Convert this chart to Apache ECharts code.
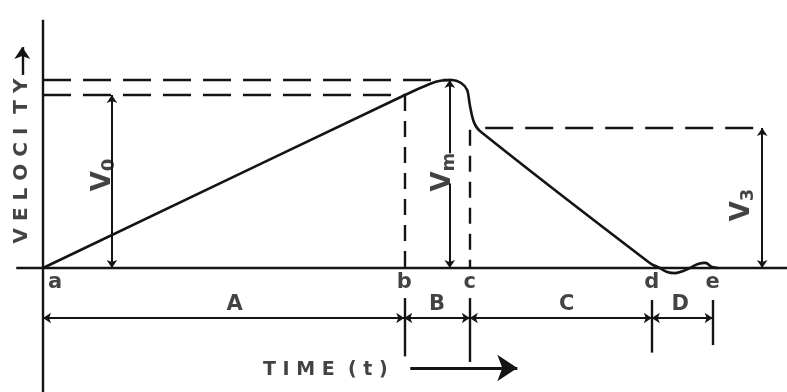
<!DOCTYPE html>
<html>
<head>
<meta charset="utf-8">
<script src="https://cdn.jsdelivr.net/npm/echarts@6/dist/echarts.min.js"></script>
<style>
  html, body { margin: 0; padding: 0; background: #fff; }
  #chart { width: 787px; height: 392px; }
</style>
</head>
<body>
<div id="chart"></div>
<script>
// Velocity profile: t in arbitrary time units (a = 0, e = 100), v in % of peak velocity Vm
const curve = [
  [0, 0], [54.1, 92.0], [57.8, 97.9], [59.6, 99.7], [61.1, 100], [62.5, 98.4],
  [63.4, 94.7], [63.8, 86.7], [64.4, 77.7], [65.3, 72.9], [90.7, 2.7], [92.2, 0],
  [93.3, -2.1], [94.5, -2.7], [95.7, -1.6], [96.7, 0], [97.9, 2.1], [99.0, 2.7],
  [100, 0.5], [100.9, 0]
];

// Instants on the time axis and the phases between them
const instantNames = ['a', 'b', 'c', 'd', 'e'];
const instantTimes = [0, 54.0, 63.8, 91.0, 100.1];
const phaseNames = ['A', 'B', 'C', 'D'];

// Velocity levels: V0 at b, Vm at the peak, V3 after the drop
const levelSub = ['0', 'm', '3'];
const levelValues = [92, 100, 74.5];
const levelArrowTimes = [10.3, 60.8, 107.5];
const peakTime = 61.1;

// ---- layout (pixel scale of the diagram) ----
const W = 787, H = 392;
const ORIGIN_X = 43, ORIGIN_Y = 268;
const PX_T = 6.69, PX_V = 1.88;
const tMin = -ORIGIN_X / PX_T, tMax = (W - ORIGIN_X) / PX_T;
const vMin = -(H - ORIGIN_Y) / PX_V, vMax = ORIGIN_Y / PX_V;
const INK = '#141414';
const FONT = 'DejaVu Sans';

const DIM_V = -26.6;          // dimension line under the axis
const LETTER_V = -8;          // instant letters
const tickSpans = [[-16, -47], [-16, -50], [-17, -45], [-17, -41]];
const phaseShiftPx = [11, 0, 6, -2];

const [ta, tb, tc, td, te] = instantTimes;
const [v0, vm, v3] = levelValues;

function seg(a, b) { return { coords: [a, b] }; }

const solidSegs = [
  seg([0, vMax - 10.5], [0, vMin]),   // velocity axis
  seg([-4, 0], [tMax, 0])             // time axis
];
for (let i = 1; i < instantTimes.length; i++) {
  const s = tickSpans[i - 1];
  solidSegs.push(seg([instantTimes[i], s[0]], [instantTimes[i], s[1]]));
}

const dashedH = [
  seg([0, vm], [peakTime, vm]),
  seg([0, v0], [tb, v0]),
  seg([66.1, v3], [107.9, v3])
];
const dashedV = [
  seg([tb, v0], [tb, 0]),
  seg([tc, v3 - 1], [tc, 0])
];

const dimSegs = [];
for (let i = 0; i < phaseNames.length; i++) {
  dimSegs.push(seg([instantTimes[i], DIM_V], [instantTimes[i + 1], DIM_V]));
}

const levelArrows = [
  seg([levelArrowTimes[0], 0], [levelArrowTimes[0], v0]),
  seg([levelArrowTimes[2], 0], [levelArrowTimes[2], v3])
];

const chart = echarts.init(document.getElementById('chart'), null, { renderer: 'canvas' });

const lineBase = { type: 'lines', coordinateSystem: 'cartesian2d', silent: true, animation: false };
const textBase = { type: 'scatter', symbolSize: 1, silent: true, itemStyle: { color: 'rgba(0,0,0,0)' } };

chart.setOption({
  backgroundColor: '#fff',
  animation: false,
  grid: { left: 0, right: 0, top: 0, bottom: 0 },
  xAxis: { type: 'value', min: tMin, max: tMax, show: false },
  yAxis: { type: 'value', min: vMin, max: vMax, show: false },
  series: [
    Object.assign({}, lineBase, {
      data: solidSegs, symbol: 'none',
      lineStyle: { color: INK, width: 2.4, opacity: 1 }
    }),
    Object.assign({}, lineBase, {
      data: dashedH, symbol: 'none',
      lineStyle: { color: INK, width: 2.4, type: [28, 12], opacity: 1 }
    }),
    Object.assign({}, lineBase, {
      data: dashedV, symbol: 'none',
      lineStyle: { color: INK, width: 2.4, type: [16, 10], opacity: 1 }
    }),
    Object.assign({}, lineBase, {
      data: dimSegs.concat(levelArrows), symbol: ['arrow', 'arrow'], symbolSize: 8,
      lineStyle: { color: INK, width: 2, opacity: 1 }
    }),
    // Vm arrow, broken around its label
    Object.assign({}, lineBase, {
      data: [seg([levelArrowTimes[1], 61], [levelArrowTimes[1], vm])],
      symbol: ['none', 'arrow'], symbolSize: 8,
      lineStyle: { color: INK, width: 2, opacity: 1 }
    }),
    Object.assign({}, lineBase, {
      data: [seg([levelArrowTimes[1], 45], [levelArrowTimes[1], 0])],
      symbol: ['none', 'arrow'], symbolSize: 8,
      lineStyle: { color: INK, width: 2, opacity: 1 }
    }),
    // time arrow and velocity arrow
    Object.assign({}, lineBase, {
      data: [seg([54.9, -53.2], [70.9, -53.2])],
      symbol: ['none', 'arrow'], symbolSize: [15, 20],
      lineStyle: { color: INK, width: 3, opacity: 1 }
    }),
    Object.assign({}, lineBase, {
      data: [seg([-3.1, 102.7], [-3.1, 117.5])],
      symbol: ['none', 'arrow'], symbolSize: [9, 12],
      lineStyle: { color: INK, width: 2.4, opacity: 1 }
    }),
    // the velocity trace
    {
      type: 'line', data: curve, smooth: 0.35, symbol: 'none', silent: true,
      clip: false, lineStyle: { color: INK, width: 2.6 }
    },
    // instant letters a..e
    Object.assign({}, textBase, {
      data: instantNames.map((n, i) => ({ name: n, value: [instantTimes[i] + (i === 0 ? 1.8 : 0), LETTER_V] })),
      label: { show: true, position: 'inside', formatter: '{b}', color: INK,
               fontFamily: FONT, fontWeight: 'bold', fontSize: 21 }
    }),
    // phase letters A..D above the dimension line
    Object.assign({}, textBase, {
      data: phaseNames.map((n, i) => ({
        name: n,
        value: [(instantTimes[i] + instantTimes[i + 1]) / 2 + phaseShiftPx[i] / PX_T, DIM_V]
      })),
      label: { show: true, position: 'top', distance: 2, formatter: '{b}', color: INK,
               fontFamily: FONT, fontWeight: 'bold', fontSize: 21 }
    }),
    // level labels V0, Vm, V3 (rotated)
    Object.assign({}, textBase, {
      data: [
        { name: levelSub[0], value: [levelArrowTimes[0] - 1.3, 49.5] },
        { name: levelSub[1], value: [levelArrowTimes[1] - 1.0, 51] },
        { name: levelSub[2], value: [levelArrowTimes[2] - 3.0, 33.5] }
      ],
      label: {
        show: true, position: 'inside', rotate: 90, color: INK,
        formatter: p => '{v|V}{s|' + p.name + '}',
        rich: {
          v: { fontFamily: FONT, fontWeight: 'bold', fontSize: 26, color: INK, lineHeight: 30 },
          s: { fontFamily: FONT, fontWeight: 'bold', fontSize: 18, color: INK, lineHeight: 30,
               verticalAlign: 'bottom', padding: [10, 0, 0, 0] }
        }
      }
    }),
    // axis titles
    Object.assign({}, textBase, {
      data: [{ name: 'T I M E  ( t )', value: [42.2, -54.3] }],
      label: { show: true, position: 'inside', formatter: '{b}', color: INK,
               fontFamily: FONT, fontWeight: 'bold', fontSize: 19 }
    }),
    Object.assign({}, textBase, {
      data: [{ name: 'V E L O C I  T Y', value: [-3.1, 56.9] }],
      label: { show: true, position: 'inside', rotate: 90, formatter: '{b}', color: INK,
               fontFamily: FONT, fontWeight: 'bold', fontSize: 20 }
    })
  ]
});
</script>
</body>
</html>
